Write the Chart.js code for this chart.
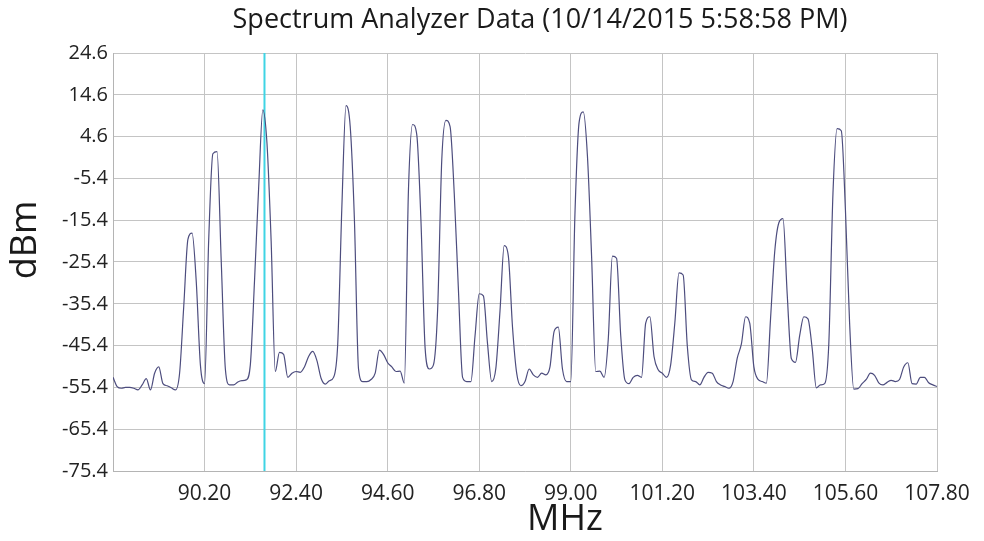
<!DOCTYPE html>
<html>
<head>
<meta charset="utf-8">
<title>Spectrum Analyzer Data</title>
<script src="https://cdn.jsdelivr.net/npm/chart.js@4.4.0/dist/chart.umd.min.js"></script>
<style>
  html, body { margin: 0; padding: 0; background: #fff; }
  #wrap { width: 984px; height: 541px; }
</style>
</head>
<body>
<div id="wrap"><canvas id="spectrum" width="984" height="541"></canvas></div>
<script>
// sweep: 88.0 .. 107.8 MHz, one reading every 0.1 MHz
var startMHz = 88.0;
var stepMHz = 0.1;
var markerMHz = 91.64;

// trace in dBm, ten readings per MHz row
var dbm = [
  -53, -55.2, -55.6, -55.4, -55.4, -55.6, -56, -54.8, -53.3, -56,          // 88
  -52, -50.5, -54.5, -55, -55.5, -56, -52, -36, -20, -18.5,                 // 89
  -30, -50, -54.5, -20, 0.5, 1, -25, -51, -54.8, -54.8,                     // 90
  -54.1, -53.8, -53.6, -50, -30, -7.6, 11, 3, -20.4, -51.6,                 // 91
  -47, -47.5, -53, -52, -51.6, -51.8, -50.5, -48, -46.8, -49,               // 92
  -53.2, -54.6, -53.8, -53, -45, -12, 12, 7, -15, -51,                      // 93
  -54, -54, -53.5, -52, -46.5, -47.5, -49.5, -50.5, -51.6, -51.5,           // 94
  -54.4, -8, 7.5, 5, -15.6, -46, -51, -50, -37, -1,                         // 95
  8.5, 7, -9, -32, -53, -54, -54, -43, -33, -33.5,                          // 96
  -45, -54, -50.8, -37, -21.5, -24, -41, -52, -55, -54,                     // 97
  -51, -52.4, -53, -52, -52.4, -50.5, -42, -41, -51, -54,                   // 98
  -54, -14, 8, 10.5, 0, -24, -51.6, -51.5, -53, -44,                        // 99
  -24, -24.5, -43, -53.6, -54.5, -53, -52.5, -53, -40, -38.5,               // 100
  -48, -51.2, -52, -53, -50, -40, -28, -28.5, -45.5, -53.6,                 // 101
  -54, -54.8, -53, -51.8, -52, -54, -54.8, -55.2, -55.6, -54,               // 102
  -48.4, -45, -38.5, -40, -50.5, -53.5, -54, -54.4, -39, -23,               // 103
  -16, -15, -33, -48.5, -49.4, -43, -38.5, -39, -46, -55.5,                 // 104
  -54.8, -54.5, -45, -9, 6.5, 6, -13, -40, -55.8, -55.7,                    // 105
  -54.5, -53.5, -52, -52.5, -54.3, -54.8, -54.2, -53.7, -54, -53.5,         // 106
  -50.5, -49.5, -54.5, -54.6, -53, -53, -54.3, -54.8, -55.2                 // 107
];

var xTicks = [90.20, 92.40, 94.60, 96.80, 99.00, 101.20, 103.40, 105.60, 107.80];
var yTicks = [24.6, 14.6, 4.6, -5.4, -15.4, -25.4, -35.4, -45.4, -55.4, -65.4, -75.4];

var yMin = -75.4, yMax = 24.6;
var xMin = 88.0, xMax = 107.8;

var trace = dbm.map(function (v, i) {
  return { x: +(startMHz + i * stepMHz).toFixed(1), y: v };
});

// title and axis names drawn by hand so they sit where the original has them
var labelsPlugin = {
  id: 'labels',
  afterDraw: function (chart) {
    var ctx = chart.ctx;
    ctx.save();
    ctx.fillStyle = '#1a1a1a';
    ctx.textAlign = 'center';
    ctx.textBaseline = 'middle';
    ctx.font = '27px "Open Sans"';
    ctx.fillText('Spectrum Analyzer Data (10/14/2015 5:58:58 PM)', 540, 20);
    ctx.font = '36px "Open Sans"';
    ctx.fillText('MHz', 565, 520);
    ctx.translate(26, 240);
    ctx.rotate(-Math.PI / 2);
    ctx.fillText('dBm', 0, 0);
    ctx.restore();
  }
};

var gridColor = '#c4c4c4';

new Chart(document.getElementById('spectrum').getContext('2d'), {
  type: 'line',
  data: {
    datasets: [{
      data: trace,
      borderColor: '#4d4d7e',
      borderWidth: 1.2,
      pointRadius: 0,
      cubicInterpolationMode: 'monotone'
    }, {
      data: [{ x: markerMHz, y: yMin }, { x: markerMHz, y: yMax }],
      borderColor: '#3fd4e4',
      borderWidth: 2,
      pointRadius: 0
    }]
  },
  options: {
    responsive: false,
    animation: false,
    devicePixelRatio: 1,
    layout: { padding: { left: 0, right: 47, top: 53, bottom: 0 } },
    plugins: {
      legend: { display: false },
      tooltip: { enabled: false },
      title: { display: false }
    },
    scales: {
      x: {
        type: 'linear',
        min: xMin,
        max: xMax,
        afterBuildTicks: function (scale) {
          scale.ticks = xTicks.map(function (v) { return { value: v }; });
        },
        afterFit: function (scale) { scale.height = 70; },
        ticks: {
          autoSkip: false,
          maxRotation: 0,
          padding: 10,
          color: '#222',
          font: { family: 'Open Sans', size: 21 },
          callback: function (v) { return v.toFixed(2); }
        },
        grid: { color: gridColor, drawTicks: false },
        border: { color: '#b4b4b4' }
      },
      y: {
        min: yMin,
        max: yMax,
        afterBuildTicks: function (scale) {
          scale.ticks = yTicks.map(function (v) { return { value: v }; });
        },
        afterFit: function (scale) { scale.width = 113; },
        ticks: {
          autoSkip: false,
          padding: 5,
          color: '#222',
          font: { family: 'Open Sans', size: 20 },
          callback: function (v) { return v.toFixed(1); }
        },
        grid: { color: gridColor, drawTicks: false },
        border: { color: '#b4b4b4' }
      }
    }
  },
  plugins: [labelsPlugin]
});
</script>
</body>
</html>
